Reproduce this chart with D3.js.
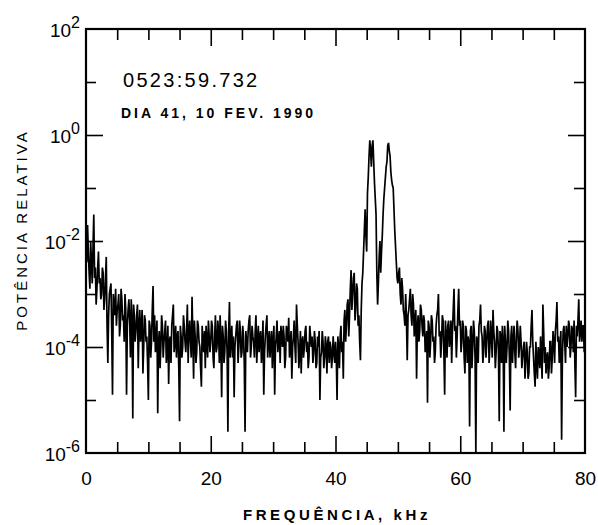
<!DOCTYPE html>
<html>
<head>
<meta charset="utf-8">
<script src="https://cdn.jsdelivr.net/npm/d3@7"></script>
<style>
  body { margin: 0; background: #fff; }
  svg { display: block; font-family: "Liberation Sans", Arial, sans-serif; }
  .tick line { stroke: #000; stroke-width: 1.6; }
  .tick text { fill: #000; }
</style>
</head>
<body>
<div id="chart"></div>
<script>
// spectrum, log10 of relative power
// logPower: samples at 0, 0.25, 0.5 ... 80 kHz
// logPowerHalf: samples at 0.125, 0.375 ... 79.875 kHz
const freqStep = 0.25;
const logPower = [
  -2.1, -1.7, -2.6, -2.0, -2.8, -1.5, -2.5, -2.9, -2.2, -2.7, -3.0, -2.6, -3.1, -2.3, -4.3, -3.0, -2.8, -4.9, -3.2, -2.9,
  -3.3, -3.0, -3.6, -3.1, -3.4, -3.0, -4.9, -3.3, -3.5, -3.1, -5.35, -3.4, -3.7, -3.2, -3.6, -3.9, -3.3, -4.0, -3.5, -3.8,
  -5.0, -3.6, -3.9, -2.85, -3.4, -3.8, -5.25, -3.7, -4.0, -3.6, -3.9, -3.5, -4.1, -4.7, -3.8, -3.6, -3.2, -3.9, -4.2, -3.7,
  -5.4, -3.8, -4.0, -3.6, -4.1, -3.2, -3.7, -3.9, -3.05, -4.6, -3.8, -4.1, -3.6, -4.0, -4.75, -3.9, -3.7, -3.6, -4.2, -3.8,
  -3.9, -3.6, -4.4, -3.4, -4.0, -3.7, -3.4, -4.95, -3.8, -4.1, -3.7, -5.6, -3.15, -3.9, -4.2, -4.95, -3.8, -3.5, -4.0, -3.7,
  -4.1, -3.8, -5.6, -3.9, -3.7, -3.4, -4.0, -3.8, -4.2, -3.4, -3.9, -4.1, -3.7, -4.0, -4.9, -3.8, -3.4, -3.9, -4.2, -3.7,
  -3.9, -4.9, -3.8, -4.1, -3.7, -3.6, -4.0, -3.8, -4.2, -3.7, -3.45, -4.0, -4.6, -3.8, -4.0, -3.2, -3.9, -4.1, -4.5, -3.8,
  -4.0, -3.6, -3.9, -4.2, -3.8, -3.8, -4.1, -3.9, -4.3, -4.0, -5.0, -4.1, -3.9, -4.2, -4.0, -3.9, -4.3, -4.0, -4.2, -4.1,
  -3.9, -5.0, -4.0, -3.8, -4.1, -4.6, -3.3, -3.6, -3.1, -3.4, -2.55, -3.0, -2.6, -3.3, -2.9, -3.4, -4.25, -2.8, -2.2, -1.4,
  -2.2, -0.8, -0.1, -0.6, -0.1, -0.9, -1.5, -3.2, -2.3, -2.6, -1.9, -1.2, -0.8, -0.5, -0.15, -0.4, -0.85, -1.0, -1.8, -2.4,
  -2.8, -2.5, -3.2, -2.9, -3.4, -3.0, -4.25, -3.3, -2.9, -3.6, -3.2, -3.5, -4.6, -3.4, -3.7, -3.3, -3.8, -3.5, -3.9, -5.05,
  -3.6, -3.9, -3.5, -3.8, -4.1, -3.4, -3.0, -3.7, -3.9, -3.5, -4.9, -3.8, -3.6, -4.0, -3.5, -3.7, -2.9, -3.6, -3.8, -2.9,
  -3.5, -3.9, -3.6, -4.5, -3.7, -3.8, -5.5, -3.6, -4.0, -3.7, -6.0, -3.9, -3.6, -3.2, -3.8, -4.1, -3.7, -3.9, -3.5, -4.0,
  -3.8, -3.3, -3.9, -4.1, -3.7, -5.4, -3.8, -3.6, -5.6, -3.9, -4.0, -3.7, -5.2, -3.6, -3.9, -4.1, -3.8, -3.7, -4.0, -3.9,
  -4.2, -3.9, -4.3, -4.1, -4.5, -4.0, -3.3, -4.2, -4.75, -4.3, -4.0, -4.4, -4.2, -3.2, -4.3, -4.5, -4.1, -4.4, -3.9, -4.2,
  -3.9, -3.7, -3.15, -3.8, -4.0, -5.75, -3.7, -3.9, -3.6, -3.8, -3.6, -4.0, -3.7, -3.5, -4.95, -3.8, -3.1, -3.7, -3.9, -3.6,
  -3.6
];
const logPowerHalf = [
  -2.4, -2.2, -2.9, -2.4, -2.1, -2.7, -3.2, -2.5, -2.8, -3.1, -2.5, -3.3, -2.7, -3.6, -3.4, -2.9, -3.7, -3.0, -3.4, -3.6,
  -3.2, -3.8, -2.9, -3.5, -3.9, -3.3, -3.6, -3.1, -4.2, -3.5, -3.2, -3.9, -3.4, -4.4, -3.3, -3.6, -4.5, -3.4, -3.9, -4.3,
  -3.5, -4.2, -3.3, -3.9, -4.1, -3.5, -3.9, -4.4, -3.4, -4.2, -3.7, -4.3, -3.6, -3.9, -4.3, -3.4, -4.1, -3.6, -3.8, -4.4,
  -3.6, -4.2, -3.4, -3.9, -3.7, -4.3, -3.5, -4.2, -3.8, -3.5, -4.3, -3.5, -3.9, -4.4, -3.6, -4.1, -4.4, -3.9, -3.5, -4.1,
  -3.5, -4.2, -3.8, -4.1, -3.5, -4.3, -3.9, -3.6, -4.3, -3.5, -4.1, -3.7, -4.2, -3.6, -3.8, -4.0, -3.6, -4.3, -3.5, -4.2,
  -3.6, -4.3, -3.7, -4.1, -3.5, -4.2, -3.6, -3.9, -3.7, -4.3, -3.6, -3.8, -4.3, -3.5, -4.1, -3.6, -4.2, -3.7, -3.9, -4.4,
  -3.6, -4.0, -3.5, -3.9, -4.3, -3.8, -3.6, -4.4, -3.6, -3.9, -4.2, -3.7, -4.0, -3.5, -4.3, -3.6, -4.4, -3.7, -3.9, -4.2,
  -3.7, -4.1, -4.4, -3.6, -4.0, -4.3, -3.7, -4.4, -3.8, -3.7, -4.2, -3.7, -4.4, -3.8, -4.5, -3.8, -3.9, -4.4, -3.8, -4.3,
  -4.2, -3.8, -4.4, -3.6, -3.9, -3.5, -3.9, -3.2, -3.8, -2.9, -3.3, -2.7, -3.5, -2.8, -3.6, -3.9, -3.3, -2.6, -1.8, -1.9,
  -1.1, -0.4, -0.3, -0.2, -0.5, -1.2, -2.6, -2.8, -2.0, -2.2, -1.5, -1.0, -0.6, -0.2, -0.3, -0.7, -0.95, -1.4, -2.1, -2.7,
  -2.6, -3.0, -2.7, -3.3, -3.6, -3.5, -3.4, -3.1, -3.4, -3.0, -3.8, -3.3, -3.6, -3.9, -3.2, -3.6, -3.4, -4.1, -3.7, -3.5,
  -4.2, -3.4, -3.9, -4.3, -3.6, -3.3, -3.8, -4.2, -3.4, -4.1, -3.5, -4.2, -3.5, -3.8, -4.3, -3.3, -3.7, -4.2, -3.3, -3.6,
  -4.1, -3.5, -4.2, -3.6, -4.3, -3.9, -3.7, -4.4, -3.5, -4.2, -3.8, -4.3, -3.5, -3.7, -4.3, -3.6, -4.2, -3.6, -4.3, -3.5,
  -4.2, -3.7, -4.4, -3.6, -4.1, -3.7, -4.3, -3.9, -3.6, -4.3, -3.5, -4.2, -3.8, -4.3, -3.6, -4.4, -3.5, -4.2, -3.6, -4.4,
  -4.0, -4.6, -3.9, -4.6, -4.0, -3.6, -3.9, -4.5, -3.9, -4.6, -4.1, -3.8, -4.6, -3.7, -4.0, -4.2, -4.6, -3.9, -4.5, -3.7,
  -4.3, -3.5, -3.9, -4.3, -3.7, -4.2, -3.6, -4.3, -4.0, -3.5, -4.2, -3.6, -4.1, -4.3, -3.6, -3.5, -3.9, -3.5, -3.6, -4.1
];
const xMajorTicks = [0, 20, 40, 60, 80];
const xMinorTicks = [5, 10, 15, 25, 30, 35, 45, 50, 55, 65, 70, 75];
const yMajorExp = [2, 0, -2, -4, -6];
const yMinorExp = [1, -1, -3, -5];
const timeLabel = '0523:59.732';
const dateLabel = 'DIA 41, 10 FEV. 1990';

const W = 598, H = 525;
const plot = { left: 86, top: 29, right: 585, bottom: 453 };

const svg = d3.select('#chart').append('svg').attr('width', W).attr('height', H);
svg.append('rect').attr('width', W).attr('height', H).attr('fill', '#fff');

const x = d3.scaleLinear().domain([0, 80]).range([plot.left, plot.right]);
const y = d3.scaleLog().domain([1e-6, 1e2]).range([plot.bottom, plot.top]);

// interleave the two sample grids
const data = [];
logPower.forEach((v, i) => {
  data.push({ f: i * freqStep, p: Math.pow(10, v) });
  if (i < logPowerHalf.length) data.push({ f: (i + 0.5) * freqStep, p: Math.pow(10, logPowerHalf[i]) });
});

// trace
svg.append('clipPath').attr('id', 'clip').append('rect')
  .attr('x', plot.left).attr('y', plot.top)
  .attr('width', plot.right - plot.left).attr('height', plot.bottom - plot.top);
const line = d3.line().x(d => x(d.f)).y(d => y(d.p));
svg.append('path').datum(data)
  .attr('clip-path', 'url(#clip)')
  .attr('fill', 'none').attr('stroke', '#000').attr('stroke-width', 1.7)
  .attr('d', line);

// ticks, all pointing inward
function ticks(g, axis) { g.call(axis); g.select('.domain').remove(); }
ticks(svg.append('g').attr('transform', `translate(0,${plot.bottom})`),
  d3.axisBottom(x).tickValues(xMinorTicks).tickSize(-11).tickFormat(''));
const tbm = svg.append('g').attr('transform', `translate(0,${plot.bottom})`);
ticks(tbm, d3.axisBottom(x).tickValues(xMajorTicks).tickSize(-17).tickPadding(19).tickFormat(d3.format('d')));
tbm.selectAll('text').attr('font-size', '19px');
tbm.selectAll('.tick line').filter(d => d === 0 || d === 80).remove();

ticks(svg.append('g').attr('transform', `translate(0,${plot.top})`),
  d3.axisTop(x).tickValues(xMinorTicks).tickSize(-11).tickFormat(''));
ticks(svg.append('g').attr('transform', `translate(0,${plot.top})`),
  d3.axisTop(x).tickValues([20, 40, 60]).tickSize(-17).tickFormat(''));

const yMinor = yMinorExp.map(e => Math.pow(10, e));
const yMajor = yMajorExp.map(e => Math.pow(10, e)).filter(v => v < 1e2 && v > 1e-6);
ticks(svg.append('g').attr('transform', `translate(${plot.left},0)`),
  d3.axisLeft(y).tickValues(yMinor).tickSize(-10).tickFormat(''));
ticks(svg.append('g').attr('transform', `translate(${plot.left},0)`),
  d3.axisLeft(y).tickValues(yMajor).tickSize(-17).tickFormat(''));
ticks(svg.append('g').attr('transform', `translate(${plot.right},0)`),
  d3.axisRight(y).tickValues(yMinor).tickSize(-11).tickFormat(''));
ticks(svg.append('g').attr('transform', `translate(${plot.right},0)`),
  d3.axisRight(y).tickValues(yMajor).tickSize(-17).tickFormat(''));

// frame
svg.append('rect')
  .attr('x', plot.left).attr('y', plot.top)
  .attr('width', plot.right - plot.left).attr('height', plot.bottom - plot.top)
  .attr('fill', 'none').attr('stroke', '#000').attr('stroke-width', 2.2);

// y labels: 10 with exponent
yMajorExp.forEach(e => {
  const t = svg.append('text')
    .attr('x', 80).attr('y', y(Math.pow(10, e)) + 8)
    .attr('text-anchor', 'end').attr('fill', '#000');
  t.append('tspan').attr('font-size', '19px').text('10');
  t.append('tspan').attr('font-size', '16px').attr('dy', -9).text(e < 0 ? '-' + (-e) : e);
});

// axis titles
svg.append('text')
  .attr('x', 337).attr('y', 520).attr('text-anchor', 'middle')
  .attr('font-size', '15px').attr('letter-spacing', '3.6px').attr('font-weight', 'bold')
  .text('FREQUÊNCIA, kHz');
svg.append('text')
  .attr('transform', 'translate(27,230) rotate(-90)').attr('text-anchor', 'middle')
  .attr('font-size', '15px').attr('letter-spacing', '3px')
  .text('POTÊNCIA RELATIVA');

// annotations
svg.append('text')
  .attr('x', 123).attr('y', 87)
  .attr('font-size', '20px').attr('letter-spacing', '2.3px')
  .text(timeLabel);
svg.append('text')
  .attr('x', 121).attr('y', 118)
  .attr('font-size', '14px').attr('font-weight', 'bold').attr('letter-spacing', '3px')
  .text(dateLabel);
</script>
</body>
</html>
